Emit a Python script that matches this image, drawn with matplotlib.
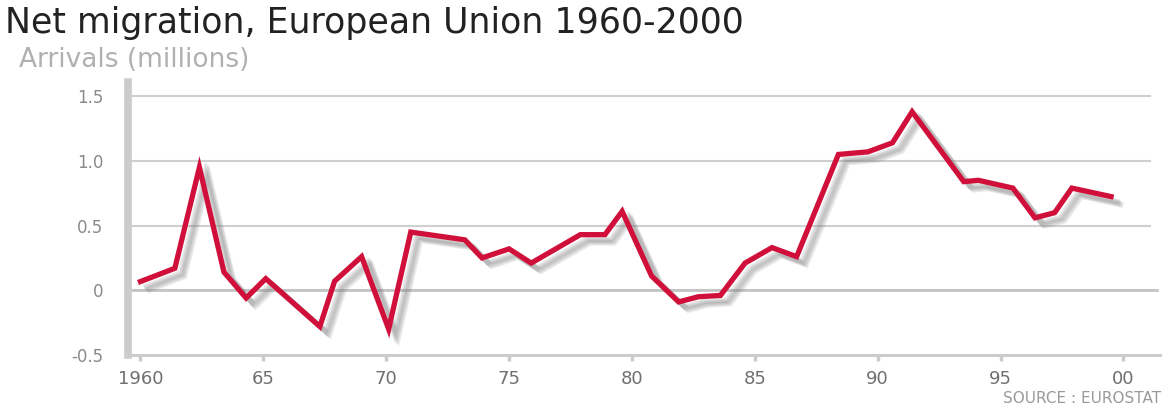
import matplotlib
matplotlib.use('Agg')
import matplotlib.pyplot as plt
import matplotlib.patheffects as pe

# values (year, millions of arrivals)
years = [1959.9, 1961.4, 1962.4, 1963.4, 1964.3, 1965.1, 1967.3, 1967.9, 1969.0,
         1970.1, 1971.0, 1973.2, 1973.9, 1975.0, 1975.9, 1977.9, 1978.9, 1979.6,
         1980.8, 1981.9, 1982.7, 1983.6, 1984.6, 1985.7, 1986.7, 1988.4, 1989.6,
         1990.6, 1991.4, 1993.5, 1994.1, 1995.5, 1996.4, 1997.2, 1997.9, 1999.6]
arrivals = [0.06, 0.17, 0.95, 0.14, -0.06, 0.09, -0.28, 0.07, 0.26,
            -0.30, 0.45, 0.39, 0.25, 0.32, 0.21, 0.43, 0.43, 0.61,
            0.11, -0.09, -0.05, -0.04, 0.21, 0.33, 0.26, 1.05, 1.07,
            1.14, 1.38, 0.84, 0.85, 0.79, 0.56, 0.60, 0.79, 0.72]

xticks = [1960, 1965, 1970, 1975, 1980, 1985, 1990, 1995, 2000]
xlabels = ['1960', '65', '70', '75', '80', '85', '90', '95', '00']
yticks = [-0.5, 0, 0.5, 1.0, 1.5]
ylabels = ['-0.5', '0', '0.5', '1.0', '1.5']

fig = plt.figure(figsize=(11.65, 4.08), dpi=100)
ax = fig.add_axes([0.110, 0.130, 0.886, 0.669])

ax.set_xlim(1959.5, 2001.5)
ax.set_ylim(-0.5, 1.61)

# grid lines
for v in yticks[1:]:
    ax.axhline(v, xmin=0.004, xmax=0.99, color='#cfcfcf', lw=1.5, zorder=1)
ax.axhline(0, xmin=0.004, xmax=0.997, color='#c4c4c4', lw=2.0, zorder=1)

# red line with a soft grey drop shadow
shadow = [pe.SimpleLineShadow(offset=(s, -0.85 * s), shadow_color='#777777', alpha=0.16)
          for s in (4.0, 5.0, 6.0, 7.0)]
ax.plot(years, arrivals, color='#d0103a', lw=3.8, solid_joinstyle='miter',
        solid_capstyle='butt', zorder=3,
        path_effects=shadow + [pe.Normal()])

for s in ['top', 'right']:
    ax.spines[s].set_visible(False)
ax.spines['left'].set_color('#cccccc')
ax.spines['left'].set_linewidth(5.5)
ax.spines['bottom'].set_color('#cccccc')
ax.spines['bottom'].set_linewidth(2.2)

ax.set_xticks(xticks)
ax.set_xticklabels(xlabels)
ax.set_yticks(yticks)
ax.set_yticklabels(ylabels)
ax.tick_params(axis='x', colors='#cccccc', length=4, width=2.5, pad=7,
               labelcolor='#707070', labelsize=13)
ax.tick_params(axis='y', length=0, pad=18, labelcolor='#8a8a8a', labelsize=12)

fig.text(0.004, 0.985, 'Net migration, European Union 1960-2000', fontsize=25,
         color='#222222', ha='left', va='top')
fig.text(0.016, 0.885, 'Arrivals (millions)', fontsize=19, color='#b0b0b0',
         ha='left', va='top')
fig.text(0.997, 0.005, 'SOURCE : EUROSTAT', fontsize=11, color='#9a9a9a',
         ha='right', va='bottom')

fig.savefig('out.png', dpi=100)
